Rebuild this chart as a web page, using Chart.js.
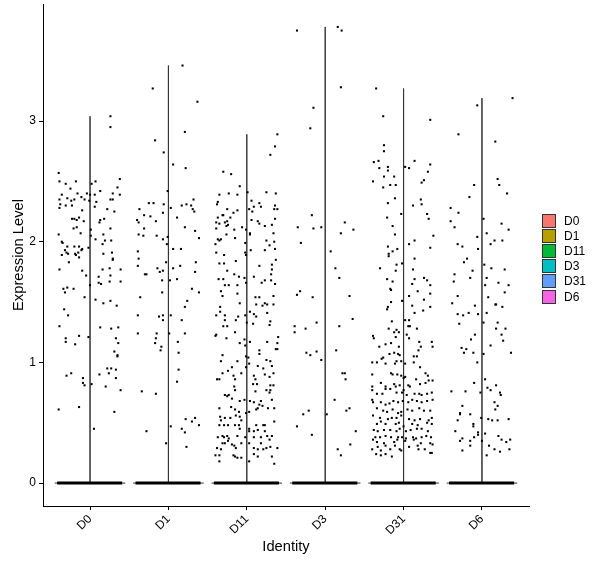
<!DOCTYPE html>
<html>
<head>
<meta charset="utf-8">
<script src="https://cdn.jsdelivr.net/npm/chart.js@4"></script>
<style>
  body { margin: 0; background: #fff; font-family: "Liberation Sans", Arial, sans-serif; }
  #wrap { position: relative; width: 600px; height: 568px; }
  #legend { position: absolute; left: 542px; top: 213px; }
  .row { height: 15.2px; display: flex; align-items: center; font-size: 12px; color: #000; }
  .key { width: 14px; height: 14px; box-sizing: border-box; border: 1px solid #333; margin-right: 8px; }
</style>
</head>
<body>
<div id="wrap">
  <canvas id="vln" width="600" height="568"></canvas>
  <div id="legend"></div>
</div>
<script>
// identities and their ggplot hue colours
const groups = ['D0', 'D1', 'D11', 'D3', 'D31', 'D6'];
const groupColors = ['#F8766D', '#B79F00', '#00BA38', '#00BFC4', '#619CFF', '#F564E3'];
// highest expression per identity (top of the violin)
const violinTop = [3.04, 3.46, 2.89, 3.78, 3.27, 3.19];
const yTicks = [0, 1, 2, 3];

// non-zero cells: [jitter, expression level]
const cellsD0 = [[-0.40,2.57],[-0.39,2.50],[-0.31,2.48],[-0.18,2.50],[0.02,2.48],[0.07,2.50],[0.38,2.52],[-0.25,2.44],[0.13,2.42],[0.35,2.45],[-0.36,2.39],[-0.16,2.40],[-0.11,2.37],[-0.04,2.40],[0.00,2.39],[0.06,2.39],[0.29,2.40],[0.38,2.39],[-0.39,2.35],[-0.29,2.36],[-0.24,2.34],[-0.20,2.35],[-0.07,2.35],[-0.01,2.34],[0.26,2.35],[0.29,2.35],[-0.38,2.31],[-0.31,2.30],[-0.23,2.30],[0.06,2.29],[0.08,2.33],[0.22,2.27],[0.31,2.25],[-0.39,2.28],[-0.10,2.26],[-0.23,2.19],[-0.20,2.19],[-0.17,2.18],[-0.14,2.20],[-0.08,2.17],[0.13,2.18],[0.18,2.19],[0.12,2.16],[-0.21,2.11],[-0.17,2.12],[-0.12,2.07],[0.01,2.10],[0.26,2.11],[-0.40,2.06],[0.01,2.05],[0.07,2.02],[0.17,2.06],[-0.36,2.00],[-0.35,1.99],[-0.29,1.96],[-0.20,1.96],[-0.14,1.96],[-0.10,1.94],[-0.11,1.93],[-0.02,1.95],[0.16,1.98],[0.19,2.01],[0.27,2.01],[-0.30,1.91],[-0.36,1.89],[-0.32,1.93],[-0.28,1.90],[-0.19,1.90],[-0.15,1.91],[-0.18,1.89],[-0.14,1.87],[0.17,1.90],[0.28,1.91],[0.29,1.86],[0.29,1.85],[-0.27,1.83],[-0.39,1.77],[-0.10,1.76],[-0.05,1.72],[0.00,1.64],[0.11,1.71],[0.16,1.77],[0.25,1.78],[0.26,1.72],[0.39,1.77],[0.11,1.66],[0.14,1.65],[0.25,1.67],[0.39,1.67],[-0.34,1.61],[-0.32,1.58],[-0.29,1.62],[-0.21,1.61],[-0.07,1.54],[0.07,1.52],[0.17,1.49],[0.26,1.51],[0.34,1.47],[-0.33,1.44],[-0.28,1.39],[-0.39,1.30],[-0.31,1.20],[-0.31,1.17],[-0.19,1.15],[-0.14,1.22],[-0.02,1.21],[0.13,1.29],[0.27,1.28],[0.36,1.29],[0.33,1.20],[0.36,1.16],[0.31,1.09],[0.35,1.06],[0.35,1.05],[-0.30,0.89],[-0.24,0.91],[-0.09,0.87],[-0.09,0.83],[-0.07,0.81],[0.02,0.82],[0.12,0.90],[0.22,0.95],[0.24,0.91],[0.27,0.95],[0.33,0.94],[0.33,0.87],[0.20,0.80],[0.39,0.77],[-0.40,0.61],[-0.14,0.63],[0.31,0.59],[0.05,0.45],[0.26,3.04],[0.26,2.95]];

const cellsD1 = [[0.37,3.16],[0.21,2.91],[-0.17,2.84],[-0.06,2.74],[0.06,2.64],[0.22,2.61],[-0.01,2.42],[-0.19,2.32],[-0.25,2.32],[-0.37,2.27],[-0.31,2.22],[-0.23,2.21],[-0.16,2.17],[-0.40,2.18],[-0.38,2.16],[-0.07,2.24],[-0.06,2.31],[0.03,2.28],[0.11,2.20],[0.17,2.30],[0.23,2.31],[0.29,2.30],[0.31,2.27],[0.32,2.35],[0.33,2.25],[0.21,2.12],[0.34,2.09],[0.39,2.03],[-0.31,2.11],[-0.38,2.06],[-0.32,2.05],[-0.15,2.05],[-0.07,2.02],[-0.01,2.04],[-0.02,1.98],[0.06,1.94],[0.16,1.94],[-0.39,1.92],[-0.38,1.86],[-0.39,1.80],[-0.03,1.83],[-0.14,1.78],[-0.11,1.75],[-0.07,1.76],[0.06,1.78],[0.15,1.80],[0.35,1.83],[0.34,1.75],[-0.30,1.73],[-0.28,1.73],[-0.08,1.68],[0.02,1.68],[0.11,1.69],[0.30,1.61],[0.39,1.58],[-0.08,1.58],[-0.36,1.54],[-0.39,1.39],[-0.12,1.38],[-0.07,1.39],[-0.07,1.35],[0.03,1.39],[0.21,1.46],[0.24,1.51],[0.17,1.35],[-0.39,1.24],[-0.15,1.24],[0.01,1.24],[0.21,1.24],[-0.16,1.20],[-0.17,1.16],[-0.09,1.13],[-0.10,1.10],[0.12,1.17],[0.13,1.08],[0.13,0.94],[0.11,0.84],[-0.34,0.76],[-0.16,0.74],[0.22,0.53],[0.34,0.54],[0.30,0.51],[0.39,0.48],[0.03,0.47],[0.17,0.45],[0.21,0.42],[-0.28,0.43],[-0.03,0.33],[0.23,0.30],[-0.20,3.27],[0.18,3.46]];

const cellsD11 = [[0.39,2.89],[0.36,2.79],[0.30,2.72],[-0.30,2.58],[-0.20,2.56],
[-0.09,2.46],[-0.35,2.39],[-0.23,2.40],[-0.12,2.39],[0.01,2.41],[0.25,2.41],[0.37,2.40],[-0.37,2.33],[-0.38,2.31],[0.06,2.34],[0.16,2.32],[0.09,2.29],[0.18,2.29],[0.36,2.30],[0.35,2.27],[0.39,2.27],[0.03,2.27],[-0.25,2.27],[-0.12,2.26],[-0.17,2.24],[0.07,2.25],[-0.31,2.22],[-0.30,2.22],[-0.21,2.20],[-0.37,2.20],[0.06,2.18],[0.14,2.17],[0.16,2.15],[0.36,2.19],[-0.39,2.16],[-0.35,2.15],[-0.25,2.17],[-0.28,2.16],[-0.26,2.13],[-0.24,2.14],[0.23,2.13],[0.32,2.14],[-0.06,2.12],[-0.39,2.11],[-0.16,2.10],[-0.01,2.10],[0.04,2.07],[0.04,2.06],[0.34,2.07],[-0.26,2.06],[-0.37,2.02],[-0.33,2.02],[-0.35,2.01],[-0.15,2.03],[0.25,2.01],[0.35,2.00],[-0.40,1.98],[-0.02,1.99],[0.29,1.97],[0.36,1.94],[0.05,1.93],[-0.39,1.91],[0.23,1.93],[-0.02,1.91],[-0.01,1.89],[-0.29,1.89],[-0.14,1.84],[0.37,1.85],[-0.35,1.82],[-0.29,1.82],[0.16,1.80],[0.32,1.81],[0.32,1.77],[-0.25,1.76],[-0.16,1.73],[0.31,1.73],[-0.10,1.71],[-0.03,1.70],[-0.36,1.69],[-0.30,1.69],[0.09,1.71],[0.23,1.68],[0.31,1.68],[0.19,1.66],[0.36,1.65],[-0.01,1.66],[-0.28,1.64],[-0.23,1.64],[-0.12,1.64],[-0.33,1.59],[-0.12,1.57],[-0.31,1.55],[0.11,1.54],[0.16,1.54],[0.34,1.55],[-0.09,1.49],[0.12,1.48],[0.23,1.49],[0.20,1.47],[0.26,1.48],[0.34,1.48],[-0.34,1.46],[-0.34,1.42],[0.04,1.42],[0.26,1.41],[-0.39,1.39],[-0.28,1.39],[-0.11,1.38],[-0.02,1.39],[0.09,1.40],[0.12,1.38],[-0.14,1.35],[-0.28,1.35],[0.00,1.33],[0.08,1.32],[0.30,1.34],[0.29,1.31],[-0.30,1.30],[-0.25,1.30],[-0.39,1.23],[-0.40,1.22],[-0.15,1.25],[-0.03,1.19],[-0.26,1.20],[0.40,1.21],
[-0.09,1.16],[0.04,1.17],[0.26,1.17],[0.39,1.16],[-0.02,1.14],[0.16,1.10],[0.16,1.07],[0.37,1.11],[0.39,1.11],[-0.31,1.06],[-0.01,1.05],[0.02,1.04],[-0.33,1.01],[-0.12,1.01],[0.25,1.02],[0.30,1.01],[0.32,0.97],[-0.19,0.96],[-0.24,0.93],[-0.01,0.96],[0.03,0.99],[0.14,0.97],[0.21,0.95],[-0.07,0.91],[-0.31,0.91],[-0.38,0.86],[-0.35,0.86],[-0.17,0.89],[-0.15,0.86],[0.09,0.89],[0.11,0.86],[0.23,0.90],[0.29,0.88],[0.34,0.91],[0.08,0.82],[0.13,0.82],[0.30,0.81],[0.34,0.81],[-0.16,0.80],[-0.15,0.77],[0.11,0.76],[0.25,0.77],[0.30,0.77],[0.29,0.75],[-0.28,0.73],[-0.23,0.73],[-0.25,0.72],[-0.19,0.70],[-0.09,0.68],[-0.03,0.69],[0.04,0.68],[0.09,0.67],[0.16,0.65],[0.18,0.68],[0.32,0.69],[-0.35,0.62],[-0.20,0.63],[-0.15,0.61],[-0.10,0.59],[-0.01,0.58],[0.03,0.59],[0.12,0.61],[0.14,0.62],[0.20,0.64],[0.27,0.62],[0.35,0.62],[-0.34,0.55],[-0.28,0.54],[-0.21,0.54],[-0.14,0.56],[-0.09,0.55],[-0.07,0.52],[-0.33,0.52],[-0.35,0.48],[-0.29,0.48],[-0.24,0.48],[-0.15,0.48],[-0.10,0.48],[-0.09,0.45],[0.03,0.45],[0.12,0.48],[0.21,0.48],[0.23,0.48],[0.35,0.51],[0.03,0.43],[0.09,0.43],[0.14,0.44],[0.23,0.43],[-0.37,0.38],[-0.31,0.39],[-0.25,0.39],[-0.29,0.38],[-0.23,0.37],[-0.12,0.39],[-0.02,0.38],[0.09,0.38],[0.18,0.38],[0.26,0.39],[0.32,0.39],[0.29,0.36],[-0.31,0.33],[-0.28,0.33],[-0.24,0.35],[-0.19,0.32],[-0.07,0.33],[0.03,0.33],[-0.16,0.31],[-0.38,0.29],[-0.33,0.28],[-0.14,0.29],[0.09,0.29],[0.14,0.28],[0.21,0.28],[0.25,0.29],[0.30,0.30],[0.39,0.29],[0.18,0.33],[-0.40,0.23],[-0.35,0.23],[-0.17,0.23],[-0.15,0.22],[-0.12,0.21],[-0.07,0.21],[0.09,0.24],[0.14,0.22],[0.03,0.18],[-0.35,0.18],[0.32,0.22],[0.35,0.16]];

const cellsD3 = [[-0.36,3.75],[0.16,3.78],[0.21,3.75],[0.20,3.28],[-0.15,3.11],[-0.19,2.94],[-0.17,2.22],[-0.35,2.12],[-0.15,2.11],[-0.05,2.12],[0.25,2.16],[0.36,2.10],[0.20,2.07],[-0.31,1.99],[0.07,1.92],[0.13,1.78],[0.18,1.70],[-0.32,1.59],[-0.36,1.56],[-0.16,1.54],[0.31,1.55],[0.35,1.36],[-0.39,1.30],[-0.39,1.25],[-0.25,1.28],[-0.11,1.33],[0.18,1.30],[0.14,1.10],[-0.24,1.08],[-0.19,1.06],[-0.11,1.09],[-0.05,1.02],[0.22,0.91],[0.25,0.91],[0.26,0.86],[0.12,0.69],[-0.21,0.60],[-0.28,0.57],[0.02,0.57],[0.27,0.60],[0.31,0.62],[-0.36,0.47],[-0.17,0.40],[0.39,0.43],[0.32,0.32],[0.16,0.28],[0.20,0.23]];

const cellsD31 = [[-0.35,3.27],[-0.26,3.04],[0.34,3.01],[-0.25,2.80],[-0.25,2.75],[-0.38,2.66],[-0.32,2.67],[-0.31,2.61],[-0.20,2.62],[-0.20,2.59],[0.14,2.67],[0.02,2.62],[0.07,2.61],[0.34,2.64],[0.31,2.58],[-0.25,2.54],[-0.12,2.54],[-0.39,2.50],[-0.26,2.45],[-0.17,2.47],[-0.10,2.47],[0.26,2.51],[0.23,2.49],[-0.11,2.36],[-0.20,2.32],[0.22,2.35],[0.23,2.31],[0.12,2.30],[0.30,2.23],[0.32,2.19],[-0.03,2.23],[-0.21,2.20],[-0.14,2.13],[-0.11,2.06],[0.38,2.05],[0.07,1.98],[0.14,2.01],[-0.20,1.96],[-0.14,1.92],[-0.19,1.90],[-0.19,1.88],[-0.08,1.94],[0.34,1.95],[-0.30,1.78],[-0.09,1.81],[-0.02,1.82],[-0.10,1.76],[0.14,1.86],[0.12,1.77],[-0.21,1.69],[-0.14,1.67],[0.14,1.69],[0.11,1.65],[0.26,1.70],[0.30,1.68],[0.34,1.64],[-0.17,1.61],[-0.16,1.60],[0.18,1.59],[0.34,1.57],[0.07,1.55],[-0.02,1.51],[0.11,1.47],[-0.16,1.50],[0.26,1.52],[-0.20,1.46],[-0.21,1.44],[0.14,1.41],[0.34,1.46],[0.25,1.43],[0.02,1.35],[0.07,1.35],[0.08,1.30],[-0.15,1.34],[-0.19,1.28],[-0.09,1.27],[0.06,1.30],[0.17,1.28],[-0.39,1.22],[-0.38,1.20],[-0.12,1.25],[-0.06,1.25],[-0.10,1.21],[0.04,1.23],[0.07,1.20],[-0.31,1.13],[-0.23,1.15],[-0.16,1.16],[-0.06,1.13],[0.20,1.17],[0.22,1.13],[0.19,1.10],[0.36,1.17],[0.37,1.13],[-0.26,1.04],[-0.18,1.07],[-0.12,1.08],[-0.07,1.07],[-0.05,1.06],[0.13,1.05],[0.17,1.05],[-0.40,1.00],[-0.34,1.00],[-0.28,1.03],[-0.23,0.99],[-0.11,0.99],[-0.09,1.01],[-0.03,1.01],[0.02,0.99],[0.13,1.00],[0.21,0.96],[-0.40,0.90],[-0.16,0.91],[-0.14,0.90],[-0.08,0.90],[-0.03,0.89],[0.02,0.88],[0.00,0.87],[0.28,0.91],[0.31,0.89],[0.16,0.86],[-0.40,0.80],[-0.29,0.83],[-0.23,0.80],[-0.12,0.82],[-0.10,0.80],[-0.05,0.81],[0.06,0.81],[0.08,0.80],[0.21,0.82],[0.28,0.83],[0.32,0.85],[0.37,0.85],[-0.40,0.77],[-0.34,0.74],[-0.27,0.74],[-0.23,0.78],[-0.17,0.78],[-0.09,0.75],[-0.02,0.75],[0.00,0.77],[0.04,0.73],[0.14,0.74],[0.20,0.74],[0.23,0.73],[0.30,0.74],[0.36,0.75],[-0.40,0.69],[-0.39,0.67],[-0.29,0.67],[-0.23,0.65],[-0.18,0.66],[-0.13,0.68],[-0.07,0.67],[-0.01,0.68],[0.06,0.67],[0.11,0.69],[0.17,0.68],[0.23,0.67],[0.30,0.68],[0.37,0.69],[-0.34,0.62],[-0.26,0.60],[-0.21,0.59],[-0.14,0.61],[-0.07,0.58],[-0.03,0.59],[0.05,0.61],[0.11,0.60],[0.20,0.62],[0.26,0.60],[0.34,0.60],[-0.39,0.56],[-0.30,0.54],[-0.20,0.53],[-0.15,0.54],[-0.09,0.54],[-0.03,0.56],[0.07,0.53],[0.14,0.52],[0.21,0.53],[0.32,0.52],[0.36,0.54],[-0.34,0.49],[-0.29,0.51],[-0.23,0.49],[-0.10,0.49],[-0.06,0.50],[0.00,0.47],[0.11,0.49],[0.18,0.48],[0.30,0.50],[0.36,0.49],[-0.38,0.44],[-0.33,0.43],[-0.25,0.44],[-0.17,0.44],[-0.09,0.43],[-0.05,0.45],[0.03,0.43],[0.09,0.44],[0.17,0.45],[0.23,0.45],[0.31,0.43],[-0.36,0.38],[-0.30,0.38],[-0.23,0.39],[-0.16,0.38],[-0.07,0.38],[-0.02,0.38],[0.03,0.37],[0.12,0.38],[0.16,0.37],[0.23,0.38],[0.29,0.39],[0.35,0.38],[-0.39,0.36],[-0.34,0.34],[-0.25,0.33],[-0.12,0.34],[-0.08,0.36],[0.02,0.35],[0.13,0.36],[0.22,0.33],[0.34,0.33],[-0.33,0.30],[-0.23,0.31],[-0.17,0.28],[-0.11,0.31],[-0.05,0.28],[0.07,0.30],[0.18,0.31],[0.27,0.28],[0.37,0.32],[-0.40,0.28],[-0.29,0.27],[-0.35,0.24],[-0.29,0.23],[-0.23,0.24],[-0.15,0.22],[-0.03,0.27],[0.19,0.28],[0.36,0.25],[0.34,0.25]];

const cellsD6 = [[0.39,3.19],[-0.06,3.13],[-0.30,2.89],[0.17,2.83],[0.20,2.52],[0.22,2.47],[-0.10,2.47],[0.32,2.40],[-0.16,2.37],[-0.40,2.28],[-0.30,2.24],[-0.40,2.17],[-0.35,2.12],[0.02,2.19],[0.25,2.15],[0.34,2.10],[0.06,2.07],[-0.06,2.04],[0.16,2.01],[0.26,2.01],[-0.31,1.98],[-0.25,1.96],[0.11,1.98],[-0.05,1.94],[-0.19,1.86],[-0.23,1.83],[0.03,1.81],[0.12,1.78],[0.29,1.77],[-0.12,1.76],[-0.35,1.73],[-0.15,1.70],[0.06,1.70],[-0.36,1.67],[0.21,1.66],[0.34,1.64],[0.04,1.64],[0.29,1.58],[-0.31,1.55],[0.08,1.54],[-0.38,1.49],[0.17,1.48],[0.18,1.48],[0.26,1.46],[-0.09,1.47],[-0.17,1.41],[-0.31,1.40],[-0.24,1.39],[-0.05,1.40],[0.06,1.41],[-0.29,1.32],[0.02,1.33],[0.20,1.33],[0.18,1.28],[0.30,1.28],[-0.09,1.23],[0.25,1.23],[-0.14,1.19],[0.27,1.18],[0.11,1.14],[-0.26,1.12],[-0.20,1.11],[-0.23,1.08],[-0.11,1.08],[0.02,1.07],[0.37,1.08],[-0.06,1.00],[-0.10,0.83],[0.04,0.86],[0.07,0.79],[0.11,0.77],[0.18,0.81],[-0.39,0.76],[-0.21,0.76],[-0.02,0.75],[0.23,0.75],[0.24,0.73],[0.16,0.67],[-0.25,0.64],[0.20,0.64],[0.17,0.61],[-0.28,0.58],[-0.28,0.57],[-0.15,0.57],[-0.31,0.52],[-0.01,0.54],[0.08,0.53],[0.13,0.52],[0.20,0.52],[0.34,0.53],[-0.11,0.49],[-0.11,0.47],[-0.34,0.43],[-0.05,0.42],[-0.05,0.40],[-0.10,0.38],[0.04,0.41],[0.21,0.39],[-0.25,0.37],[-0.28,0.35],[-0.15,0.35],[0.00,0.35],[0.25,0.36],[0.31,0.34],[0.36,0.36],[-0.15,0.31],[0.09,0.31],[0.16,0.28],[-0.25,0.27],[0.23,0.26],[0.35,0.28],[0.06,0.23]];

const cellsByGroup = [cellsD0, cellsD1, cellsD11, cellsD3, cellsD31, cellsD6];

const FONT = '"Liberation Sans", Arial, sans-serif';

// jittered cells, drawn on top
const datasets = [];
cellsByGroup.forEach((cells, i) => {
    datasets.push({
        data: cells.map(([dx, y]) => ({ x: i + dx, y: y })),
        pointStyle: 'rect',
        pointRadius: 1.45,
        backgroundColor: '#000',
        borderWidth: 0,
        order: 0
    });
});

// the pile of zero-valued cells along 0
groups.forEach((g, i) => {
    datasets.push({
        data: [{ x: i - 0.42, y: 0 }, { x: i + 0.41, y: 0 }],
        showLine: true,
        borderColor: '#000',
        borderWidth: 3,
        pointRadius: 0,
        order: 1
    });
});

// violin outline: wide at 0, a thin spike up to the max
groups.forEach((g, i) => {
    datasets.push({
        data: [
            { x: i - 0.45, y: 0 }, { x: i, y: 0 }, { x: i, y: violinTop[i] },
            { x: i, y: 0 }, { x: i + 0.45, y: 0 }
        ],
        showLine: true,
        borderColor: '#333',
        backgroundColor: groupColors[i],
        borderWidth: 1,
        pointRadius: 0,
        order: 2
    });
});

new Chart(document.getElementById('vln'), {
    type: 'scatter',
    data: { datasets },
    options: {
        responsive: false,
        animation: false,
        devicePixelRatio: 1,
        layout: { padding: { left: 0, right: 71, top: 3, bottom: 0 } },
        plugins: { legend: { display: false }, tooltip: { enabled: false } },
        scales: {
            x: {
                type: 'linear',
                min: -0.6,
                max: 5.6,
                afterBuildTicks: s => { s.ticks = groups.map((g, i) => ({ value: i })); },
                afterFit: s => { s.height = 62; s.paddingLeft = 0; s.paddingRight = 0; },
                ticks: {
                    callback: v => groups[v],
                    minRotation: 45,
                    maxRotation: 45,
                    color: '#000',
                    padding: 2,
                    font: { family: FONT, size: 12 }
                },
                grid: { drawOnChartArea: false, tickLength: 4, color: '#000' },
                border: { display: true, color: '#000', width: 1 },
                title: {
                    display: true,
                    text: 'Identity',
                    color: '#000',
                    padding: { top: 0, bottom: 12 },
                    font: { family: FONT, size: 14.7 }
                }
            },
            y: {
                type: 'linear',
                min: -0.19,
                max: 3.97,
                afterBuildTicks: s => { s.ticks = yTicks.map(v => ({ value: v })); },
                afterFit: s => { s.width = 43; s.paddingTop = 0; s.paddingBottom = 0; },
                ticks: {
                    color: '#000',
                    padding: 3,
                    font: { family: FONT, size: 12 }
                },
                grid: { drawOnChartArea: false, tickLength: 4, color: '#000' },
                border: { display: true, color: '#000', width: 1 },
                title: {
                    display: true,
                    text: 'Expression Level',
                    color: '#000',
                    padding: { top: 10, bottom: 0 },
                    font: { family: FONT, size: 14.7 }
                }
            }
        }
    }
});

// legend
const legend = document.getElementById('legend');
groups.forEach((g, i) => {
    const row = document.createElement('div');
    row.className = 'row';
    row.innerHTML = '<div class="key" style="background:' + groupColors[i] + '"></div><span>' + g + '</span>';
    legend.appendChild(row);
});
</script>
</body>
</html>
